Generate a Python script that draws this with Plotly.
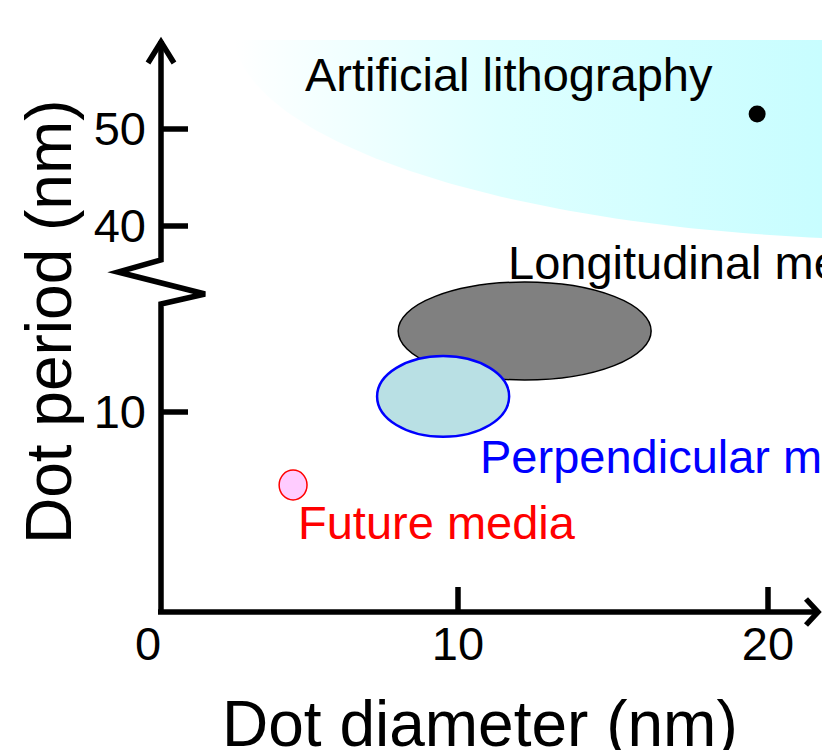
import numpy as np
import plotly.graph_objects as go

# ---------------- data (nm) ----------------
x_ticks = [0, 10, 20]
y_ticks_low = [10]
y_ticks_high = [40, 50]

# ellipses: name, centre x, centre y, radius x, radius y
ell_names = ["Longitudinal media", "Perpendicular media", "Future media"]
ell_cx = [12.15, 9.52, 4.68]
ell_cy = [14.05, 10.78, 6.35]
ell_rx = [4.08, 2.13, 0.45]
ell_ry = [2.45, 2.02, 0.75]
ell_fill = ["#808080", "#b9e0e4", "#ffccff"]
ell_line = ["#000000", "#0000ff", "#ff0000"]
ell_lw = [1.5, 2.5, 1.5]

# artificial lithography region (ellipse quadrant on upper axis)
litho_cx, litho_cy, litho_rx, litho_ry = 24.84, 60.2, 22.1, 21.65
litho_point_x = [19.65]
litho_point_y = [51.55]

FONT = "Arial, Liberation Sans, sans-serif"

fig = go.Figure()

# region with gradient
t = np.linspace(np.pi, 1.5 * np.pi, 80)
rx_pts = list(litho_cx + litho_rx * np.cos(t)) + [litho_cx, litho_cx - litho_rx]
ry_pts = list(litho_cy + litho_ry * np.sin(t)) + [litho_cy, litho_cy]
fig.add_trace(go.Scatter(
    x=rx_pts, y=ry_pts, xaxis="x", yaxis="y2", mode="lines",
    line=dict(width=0), fill="toself", fillcolor="#d8fdff",
    fillgradient=dict(type="horizontal", start=litho_cx - litho_rx, stop=21.74,
                      colorscale=[[0, "#ffffff"], [0.45, "#deffff"], [1, "#c8fdff"]]),
    hoverinfo="skip", showlegend=False))

fig.add_trace(go.Scatter(
    x=litho_point_x, y=litho_point_y, xaxis="x", yaxis="y2", mode="markers",
    marker=dict(color="black", size=17), showlegend=False, hoverinfo="skip"))

# dummy trace to make the lower subplot exist
fig.add_trace(go.Scatter(x=[None], y=[None], xaxis="x", yaxis="y", showlegend=False))

shapes = []
for cx, cy, rx, ry, fc, lc, lw in zip(ell_cx, ell_cy, ell_rx, ell_ry, ell_fill, ell_line, ell_lw):
    shapes.append(dict(type="circle", xref="x", yref="y",
                       x0=cx - rx, x1=cx + rx, y0=cy - ry, y1=cy + ry,
                       fillcolor=fc, line=dict(color=lc, width=lw), layer="above"))

# figure geometry helpers (paper coords)
L, R, T, B = 148, 822, 40, 612
W, H = R - L, B - T
def px(x):
    return (x - L) / W
def py(y):
    return (B - y) / H

AX = "black"
AW = 5.5
ax_x = px(161)
# y axis (upper part, zigzag, lower part)
shapes.append(dict(type="path", xref="paper", yref="paper",
                   path=f"M {ax_x},{py(41)} L {ax_x},{py(260)} L {px(118)},{py(272)} "
                        f"L {px(205)},{py(294)} L {ax_x},{py(304)} L {ax_x},{py(612)}",
                   line=dict(color=AX, width=AW)))
# y arrow head
shapes.append(dict(type="path", xref="paper", yref="paper",
                   path=f"M {px(148)},{py(63)} L {ax_x},{py(42)} L {px(174)},{py(63)}",
                   line=dict(color=AX, width=AW)))
# x axis
shapes.append(dict(type="line", xref="paper", yref="paper",
                   x0=px(158), x1=px(818), y0=0, y1=0, line=dict(color=AX, width=AW)))
shapes.append(dict(type="path", xref="paper", yref="paper",
                   path=f"M {px(806)},{py(599)} L {px(818)},{py(612)} L {px(806)},{py(625)}",
                   line=dict(color=AX, width=AW)))
# tick marks
for v in x_ticks[1:]:
    shapes.append(dict(type="line", xref="x", yref="paper", x0=v, x1=v,
                       y0=0, y1=py(587), line=dict(color=AX, width=AW)))
for v in y_ticks_low:
    shapes.append(dict(type="line", xref="paper", yref="y", x0=ax_x, x1=px(188),
                       y0=v, y1=v, line=dict(color=AX, width=AW)))
for v in y_ticks_high:
    shapes.append(dict(type="line", xref="paper", yref="y2", x0=ax_x, x1=px(188),
                       y0=v, y1=v, line=dict(color=AX, width=AW)))

ann = []
lab_font = 47
ann.append(dict(text="Artificial lithography", x=px(303), y=py(75), xref="paper", yref="paper",
                xanchor="left", yanchor="middle", showarrow=False,
                font=dict(family=FONT, size=lab_font, color="black")))
ann.append(dict(text=ell_names[0], x=px(506), y=py(262), xref="paper", yref="paper",
                xanchor="left", yanchor="middle", showarrow=False,
                font=dict(family=FONT, size=lab_font, color="black")))
ann.append(dict(text=ell_names[1], x=px(478), y=py(457), xref="paper", yref="paper",
                xanchor="left", yanchor="middle", showarrow=False,
                font=dict(family=FONT, size=lab_font, color="#0000ff")))
ann.append(dict(text=ell_names[2], x=px(296), y=py(522), xref="paper", yref="paper",
                xanchor="left", yanchor="middle", showarrow=False,
                font=dict(family=FONT, size=lab_font, color="#ff0000")))
ann.append(dict(text="Dot diameter (nm)", x=px(480), y=py(724), xref="paper", yref="paper",
                xanchor="center", yanchor="middle", showarrow=False,
                font=dict(family=FONT, size=64, color="black")))
ann.append(dict(text="Dot period (nm)", x=px(49), y=py(322), xref="paper", yref="paper",
                xanchor="center", yanchor="middle", showarrow=False, textangle=-90,
                font=dict(family=FONT, size=64, color="black")))

d1 = py(262)
tickfont = dict(family=FONT, size=47, color="black")
fig.update_layout(
    width=822, height=750,
    margin=dict(l=L, r=0, t=T, b=750 - B),
    paper_bgcolor="white", plot_bgcolor="rgba(0,0,0,0)",
    showlegend=False,
    xaxis=dict(range=[0, (R - L) / 31.0], domain=[0, 1], anchor="y",
               tickvals=x_ticks, ticktext=[str(v) for v in x_ticks], ticks="",
               showgrid=False, zeroline=False, showline=False, tickfont=tickfont,
               ticklabelstandoff=0),
    yaxis=dict(range=[0, (B - 262) / 20.0], domain=[0, d1], anchor="x",
               tickvals=y_ticks_low, ticktext=[str(v) for v in y_ticks_low], ticks="",
               showgrid=False, zeroline=False, showline=False, tickfont=tickfont,
               ticklabelstandoff=1),
    yaxis2=dict(range=[40 - (262 - 226) / 9.7, 40 + (226 - 40) / 9.7], domain=[d1, 1], anchor="x",
                tickvals=y_ticks_high, ticktext=[str(v) for v in y_ticks_high], ticks="",
                showgrid=False, zeroline=False, showline=False, tickfont=tickfont,
                ticklabelstandoff=1),
    shapes=shapes, annotations=ann,
)

fig.write_html("out.html")
